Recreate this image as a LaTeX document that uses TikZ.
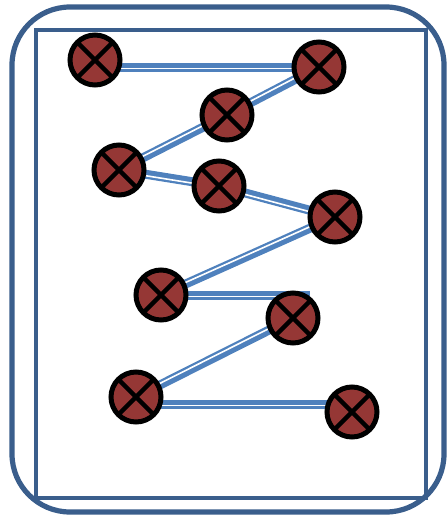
\documentclass[tikz,border=0pt]{standalone}
\usetikzlibrary{calc}
\definecolor{framecol}{HTML}{3A5E8C}
\definecolor{conncol}{HTML}{4F81BD}
\definecolor{nodefill}{HTML}{953735}
\tikzset{
  xnode/.style={circle, draw=black, line width=5pt, fill=nodefill, minimum size=50pt, inner sep=0pt,
    path picture={\draw[black, line width=4.5pt]
      (path picture bounding box.north west) -- (path picture bounding box.south east)
      (path picture bounding box.north east) -- (path picture bounding box.south west);}},
  conn/.style={draw=conncol, line width=9pt},
  stripe/.style={draw=white, line width=1.6pt},
  frame/.style={draw=framecol, line width=5.2pt}
}
\newcommand{\linkab}[2]{%
  \draw[conn] (#1) -- (#2);
  \draw[stripe] ($(#1)!1.4pt!-90:(#2)$) -- ($(#2)!1.4pt!90:(#1)$);
}
\begin{document}
\begin{tikzpicture}[x=1pt,y=-1pt]
\useasboundingbox (0,0) rectangle (447,517);
\draw[frame, rounded corners=58pt] (12,7) rectangle (444,512);
\draw[frame, line width=4.8pt] (36,30) rectangle (426,498);

\coordinate (n1) at (95,60);
\coordinate (n2) at (319,67);
\coordinate (n3) at (227,115);
\coordinate (n4) at (119,170);
\coordinate (n5) at (219,186);
\coordinate (n6) at (335,217);
\coordinate (n7) at (161,295);
\coordinate (n8) at (293,318);
\coordinate (n9) at (136,397);
\coordinate (n10) at (352,412);
\coordinate (s1) at (95,67);
\coordinate (e7) at (310,295);
\coordinate (s9) at (136,404);
\coordinate (e9) at (352,404);

\linkab{s1}{n2}
\linkab{n2}{n3}
\linkab{n3}{n4}
\linkab{n4}{n5}
\linkab{n5}{n6}
\linkab{n6}{n7}
\linkab{n7}{e7}
\linkab{n8}{n9}
\linkab{s9}{e9}

\node[xnode] (a1) at (n1) {};
\node[xnode] (a2) at (n2) {};
\node[xnode] (a3) at (n3) {};
\node[xnode] (a4) at (n4) {};
\node[xnode] (a5) at (n5) {};
\node[xnode] (a6) at (n6) {};
\node[xnode] (a7) at (n7) {};
\node[xnode] (a8) at (n8) {};
\node[xnode] (a9) at (n9) {};
\node[xnode] (a10) at (n10) {};
\end{tikzpicture}
\end{document}
